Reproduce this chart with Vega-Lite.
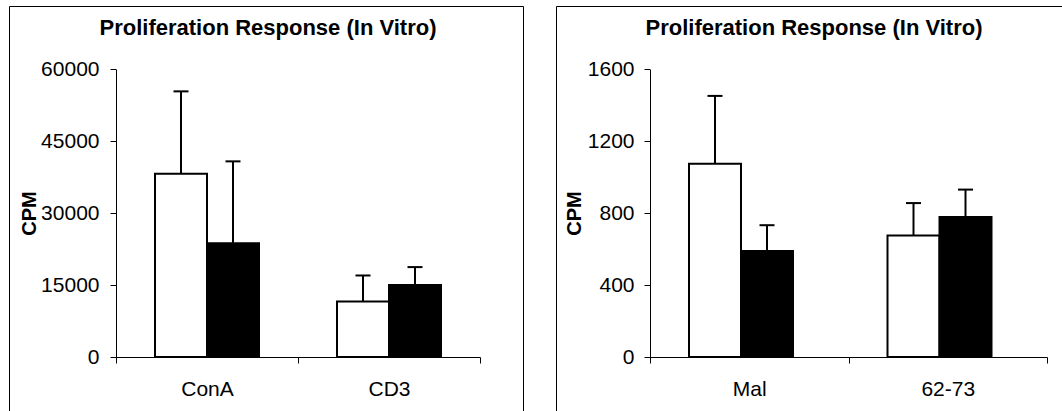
{
  "$schema": "https://vega.github.io/schema/vega-lite/v6.json",
  "padding": {"left": 8, "top": 5, "right": 0, "bottom": 0},
  "spacing": 31,
  "config": {
    "view": {"stroke": "black", "strokeWidth": 1},
    "font": "Liberation Sans",
    "axis": {"grid": false, "domainColor": "black", "tickColor": "black", "labelColor": "black", "labelFont": "Liberation Sans", "labelFontSize": 21, "titleFont": "Liberation Sans", "titleFontSize": 20, "titleFontWeight": "bold", "titleColor": "black", "tickSize": 6, "domainWidth": 1, "tickWidth": 1},
    "title": {"font": "Liberation Sans", "fontSize": 22, "fontWeight": "bold", "color": "black", "anchor": "middle", "frame": "group", "baseline": "alphabetic", "offset": -34}
  },
  "hconcat": [
    {
      "width": 514, "height": 406,
      "title": {"text": "Proliferation Response (In Vitro)", "dx": 2},
      "data": {"values": [
        {"stimulus": "ConA", "group": "A", "mean": 38200, "upper": 55400},
        {"stimulus": "ConA", "group": "B", "mean": 23700, "upper": 40800},
        {"stimulus": "CD3", "group": "A", "mean": 11600, "upper": 17000},
        {"stimulus": "CD3", "group": "B", "mean": 15000, "upper": 18750}
      ]},
      "encoding": {
        "x": {"field": "stimulus", "type": "nominal", "sort": ["ConA", "CD3"], "scale": {"range": [107, 471], "paddingInner": 0, "paddingOuter": 0}, "axis": {"title": null, "labelAngle": 0, "offset": -55, "tickBand": "extent", "labelPadding": 15}},
        "xOffset": {"field": "group", "type": "nominal", "sort": ["A", "B"], "scale": {"paddingInner": 0, "paddingOuter": 0.75}},
        "y": {"field": "mean", "type": "quantitative", "scale": {"domain": [0, 60000], "range": [351, 63.3], "nice": false}, "axis": {"values": [0, 15000, 30000, 45000, 60000], "format": "d", "title": "CPM", "offset": -107, "labelPadding": 11, "titleX": -87, "titleY": 207, "titleAlign": "center", "titleBaseline": "middle", "titleAngle": -90}}
      },
      "layer": [
        {"mark": {"type": "bar", "stroke": "black", "strokeWidth": 2}, "encoding": {"fill": {"field": "group", "type": "nominal", "scale": {"domain": ["A", "B"], "range": ["white", "black"]}, "legend": null}}},
        {"mark": {"type": "rule", "strokeWidth": 2, "color": "black"}, "encoding": {"y2": {"field": "upper"}}},
        {"mark": {"type": "tick", "size": 15, "thickness": 2, "color": "black", "opacity": 1}, "encoding": {"y": {"field": "upper", "type": "quantitative", "axis": {"title": "CPM", "format": "d"}}}}
      ]
    },
    {
      "width": 509, "height": 406,
      "title": {"text": "Proliferation Response (In Vitro)", "dx": 3.5},
      "data": {"values": [
        {"stimulus": "Mal", "group": "A", "mean": 1075, "upper": 1452},
        {"stimulus": "Mal", "group": "B", "mean": 590, "upper": 733},
        {"stimulus": "62-73", "group": "A", "mean": 676, "upper": 856},
        {"stimulus": "62-73", "group": "B", "mean": 778, "upper": 931}
      ]},
      "encoding": {
        "x": {"field": "stimulus", "type": "nominal", "sort": ["Mal", "62-73"], "scale": {"range": [94, 491], "paddingInner": 0, "paddingOuter": 0}, "axis": {"title": null, "labelAngle": 0, "offset": -55, "tickBand": "extent", "labelPadding": 15}},
        "xOffset": {"field": "group", "type": "nominal", "sort": ["A", "B"], "scale": {"paddingInner": 0, "paddingOuter": 0.75}},
        "y": {"field": "mean", "type": "quantitative", "scale": {"domain": [0, 1600], "range": [351, 63.3], "nice": false}, "axis": {"values": [0, 400, 800, 1200, 1600], "format": "d", "title": "CPM", "offset": -94, "labelPadding": 10, "titleX": -76, "titleY": 207, "titleAlign": "center", "titleBaseline": "middle", "titleAngle": -90}}
      },
      "layer": [
        {"mark": {"type": "bar", "stroke": "black", "strokeWidth": 2}, "encoding": {"fill": {"field": "group", "type": "nominal", "scale": {"domain": ["A", "B"], "range": ["white", "black"]}, "legend": null}}},
        {"mark": {"type": "rule", "strokeWidth": 2, "color": "black"}, "encoding": {"y2": {"field": "upper"}}},
        {"mark": {"type": "tick", "size": 15, "thickness": 2, "color": "black", "opacity": 1}, "encoding": {"y": {"field": "upper", "type": "quantitative", "axis": {"title": "CPM", "format": "d"}}}}
      ]
    }
  ]
}
